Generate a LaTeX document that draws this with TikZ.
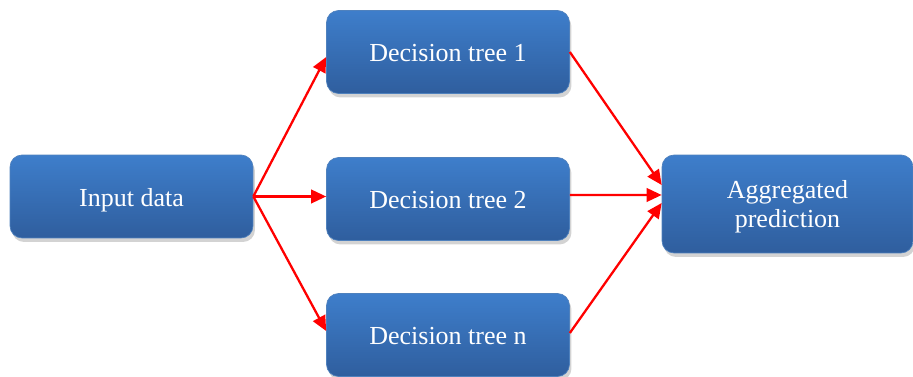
\documentclass[tikz,border=0pt]{standalone}
\usepackage{fontspec}
\setmainfont{Liberation Serif}
\usetikzlibrary{shapes,arrows.meta,positioning,shadows,calc}
\definecolor{treetop}{RGB}{62,126,203}
\definecolor{treebot}{RGB}{47,94,158}
\definecolor{treeedge}{RGB}{79,129,189}
\definecolor{flowred}{RGB}{255,0,0}

\begin{document}
\begin{tikzpicture}[x=0.02cm, y=-0.02cm,
  treebox/.style={rectangle, rounded corners=0.24cm, draw=treeedge, line width=0.4pt,
    top color=treetop, bottom color=treebot, text=white, align=center,
    minimum width=4.86cm, minimum height=1.66cm, inner sep=0pt,
    text height=0.46cm, text depth=0.06cm,
    font=\fontsize{14.8}{17}\selectfont,
    drop shadow={shadow xshift=0.04cm, shadow yshift=-0.08cm, opacity=0.35}},
  flow/.style={draw=flowred, line width=1.3pt, -{Triangle[length=0.3cm, width=0.27cm]}}]
  \useasboundingbox (0,0) rectangle (913,377);
  \node[treebox] (input) at (131.5,196.5) {Input data};
  \node[treebox] (tree1) at (448,52) {Decision tree 1};
  \node[treebox] (tree2) at (448,199) {Decision tree 2};
  \node[treebox] (treen) at (448,335) {Decision tree n};
  \node[treebox, minimum width=5.02cm, minimum height=1.96cm,
    text height=0.98cm, text depth=0.02cm] (agg) at (787.5,204)
    {Aggregated\\[-0.4pt]prediction};
  % input to the trees
  \draw[flow] (input.east) -- ([yshift=-0.1cm]tree1.west);
  \draw[flow] (input.east) -- (input.east -| tree2.west);
  \draw[flow] (input.east) -- ([yshift=0.08cm]treen.west);
  % trees to the aggregate
  \draw[flow] (tree1.east) -- ([yshift=0.38cm]agg.west);
  \draw[flow] ($(tree2.east)+(0,-4)$) -- ([yshift=0.18cm]agg.west);
  \draw[flow] ([yshift=0.04cm]treen.east) -- ([yshift=0.02cm]agg.west);
\end{tikzpicture}
\end{document}
